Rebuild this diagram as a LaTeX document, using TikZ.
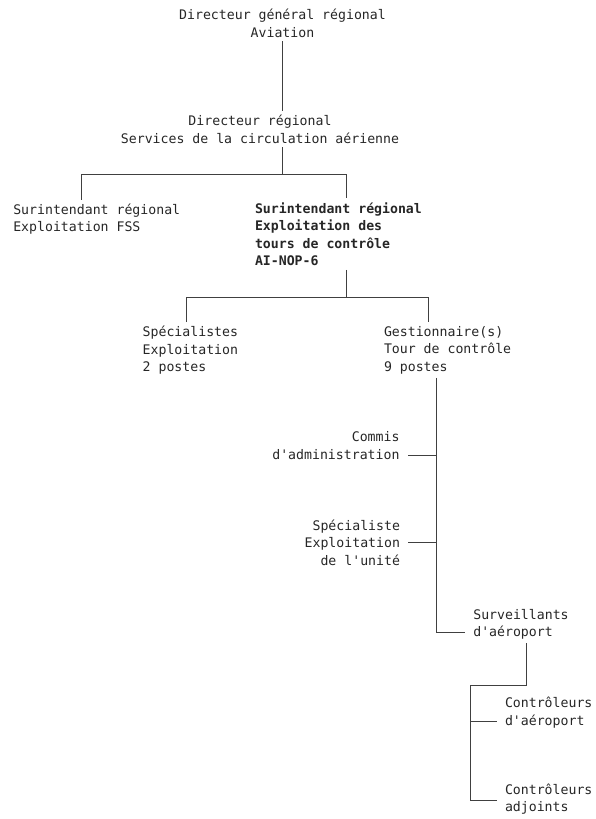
\documentclass[tikz,border=0pt]{standalone}
\usepackage{fontspec}
\setmonofont{DejaVu Sans Mono}
\usepackage{tikz}

\tikzset{
    post/.style={font=\ttfamily\fontsize{13.2}{17.5}\selectfont, text=black!85, inner sep=0pt, outer xsep=8pt, outer ysep=4pt},
    link/.style={draw=black!75, line width=0.9pt}
}

\begin{document}
\begin{tikzpicture}[x=1pt, y=-1pt]
    \useasboundingbox (0,0) rectangle (596,819);

    % Posts of the chart (baseline of the last line at the given point)
    \node[post, align=center, anchor=base] (dgr) at (282.5,37.3) {Directeur général régional\\Aviation};
    \node[post, align=center, anchor=base] (dr) at (260,143.3) {Directeur régional\\Services de la circulation aérienne};
    \node[post, align=left, anchor=base west] (fss) at (5.3,231.7) {Surintendant régional\\Exploitation FSS};
    \node[post, align=left, anchor=base west, font=\ttfamily\bfseries\fontsize{13.2}{17.5}\selectfont] (tours) at (247,265.7) {Surintendant régional\\Exploitation des\\tours de contrôle\\AI-NOP-6};
    \node[post, align=left, anchor=base west] (spec) at (134.7,371.7) {Spécialistes\\Exploitation\\2 postes};
    \node[post, align=left, anchor=base west] (gest) at (376,371) {Gestionnaire(s)\\Tour de contrôle\\9 postes};
    \node[post, align=right, anchor=base east] (commis) at (407.5,459.3) {Commis\\d'administration};
    \node[post, align=right, anchor=base east] (specu) at (408,565) {Spécialiste\\Exploitation\\de l'unité};
    \node[post, align=left, anchor=base west] (surv) at (465.3,636.7) {Surveillants\\d'aéroport};
    \node[post, align=left, anchor=base west] (ctrl) at (497,725.3) {Contrôleurs\\d'aéroport};
    \node[post, align=left, anchor=base west] (adj) at (497,811.7) {Contrôleurs\\adjoints};

    % Junction points of the lines
    \coordinate (busA) at (282.7,174);
    \coordinate (legFSS) at (81.7,174);
    \coordinate (legTours) at (346.7,174);
    \coordinate (busB) at (346.7,297.3);
    \coordinate (legSpec) at (186.7,297.3);
    \coordinate (legGest) at (428.3,297.3);
    \coordinate (tCommis) at (436,455);
    \coordinate (tSpecu) at (436,542.7);
    \coordinate (tSurv) at (436,632.7);
    \coordinate (legSurv) at (526,685);
    \coordinate (busC) at (470,685);
    \coordinate (tCtrl) at (470,721.7);
    \coordinate (tAdj) at (470,800);

    % Draw the lines between the posts
    \draw[link] (dgr.south) -- (dgr.south |- dr.north);
    \draw[link] (busA |- dr.south) -- (busA);
    \draw[link] (fss.north -| legFSS) -- (legFSS) -- (legTours) -- (tours.north -| legTours);
    \draw[link] (tours.south -| busB) -- (busB);
    \draw[link] (spec.north -| legSpec) -- (legSpec) -- (legGest) -- (gest.north -| legGest);
    \draw[link] (gest.south -| tSurv) -- (tSurv) -- (tSurv -| surv.west);
    \draw[link] (tCommis) -- (tCommis -| commis.east);
    \draw[link] (tSpecu) -- (tSpecu -| specu.east);
    \draw[link] (surv.south -| legSurv) -- (legSurv) -- (busC) -- (tAdj) -- (tAdj -| adj.west);
    \draw[link] (tCtrl) -- (tCtrl -| ctrl.west);
\end{tikzpicture}
\end{document}
